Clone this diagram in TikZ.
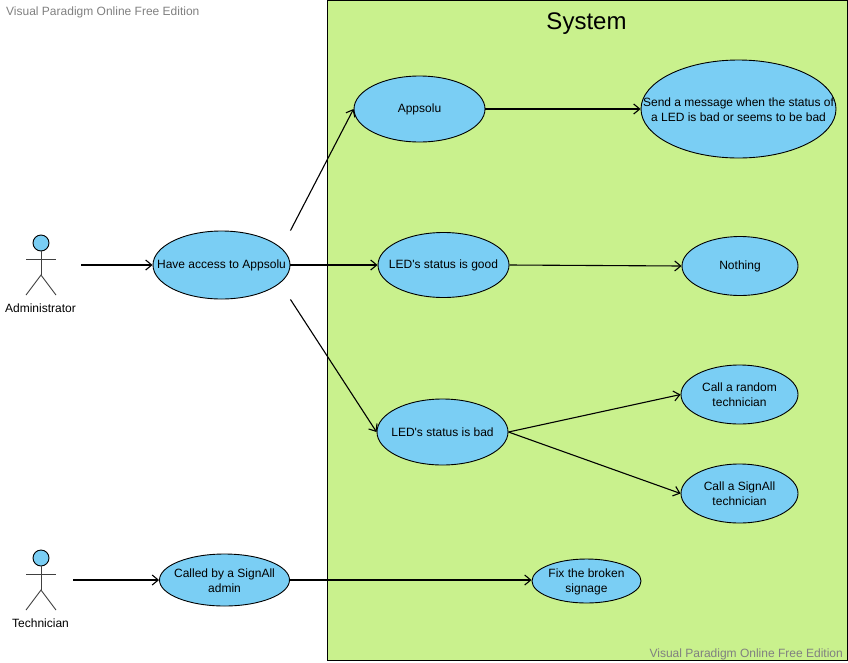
\documentclass[tikz,border=0pt]{standalone}
\usepackage{fontspec}
\setmainfont{Liberation Sans}
\usetikzlibrary{arrows.meta,shapes.geometric}
\definecolor{sysgreen}{HTML}{C9F18D}
\definecolor{caseblue}{HTML}{7ACEF4}
\begin{document}
\begin{tikzpicture}[x=1pt,y=-1pt]
	\tikzstyle{usecase}=[draw,ellipse,fill=caseblue,line width=0.9pt,inner sep=0pt]
	\tikzstyle{casetext}=[inner sep=0pt,align=center,yshift=-0.7pt,font=\fontsize{12}{15}\selectfont]
	\tikzstyle{myarrow}=[line width=1.1pt,-{Straight Barb[length=6pt,width=10pt]}]
	\tikzstyle{stick}=[draw=black!75,line width=0.9pt]
	\tikzstyle{actorname}=[inner sep=0pt,font=\fontsize{12}{15}\selectfont]
	\tikzstyle{watermark}=[inner sep=0pt,text=black!50,font=\fontsize{12}{15}\selectfont]

	\useasboundingbox (0,0) rectangle (848,662);
	\node[draw,fill=sysgreen,minimum width=520pt,minimum height=660pt,inner sep=0pt,line width=0.7pt] (system) at (587,330) {};
	\node[inner sep=0pt,font=\fontsize{24}{28}\selectfont] (title) at (586.5,24) {System};
	\node[watermark,anchor=west] (markleft) at (6,12) {Visual Paradigm Online Free Edition};
	\node[watermark,anchor=east] (markright) at (843,654) {Visual Paradigm Online Free Edition};

	% use cases
	\foreach \x / \y / \w / \h / \n / \t in {
		221.5/265/137/68/have/{Have access to Appsolu},
		419.5/109/131/66/appsolu/{Appsolu},
		738.5/109/195/98/send/{Send a message when the status of\\a LED is bad or seems to be bad},
		443.5/265/131/65/good/{LED\textquotesingle s status is good},
		740/266/116/59/nothing/{Nothing},
		442.5/432/131/66/bad/{LED\textquotesingle s status is bad},
		739.5/394.5/117/59/random/{Call a random\\technician},
		739.5/493.5/117/59/signall/{Call a SignAll\\technician},
		224.5/580/130/52/called/{Called by a SignAll\\admin},
		586.5/581/109/44/fix/{Fix the broken\\signage}}
	{ \node[usecase,minimum width=\w pt,minimum height=\h pt] (\n) at (\x,\y) {};
	  \node[casetext] (\n text) at (\n) {\t}; }

	% actors
	\foreach \y / \n / \t in {243/admin/Administrator,558/tech/Technician} {
		\node[draw,circle,fill=caseblue,minimum size=16pt,inner sep=0pt,line width=0.9pt] (\n) at (41,\y) {};
		\coordinate (\n hip) at (41,\y+32);
		\coordinate (\n arml) at (26,\y+16);
		\coordinate (\n armr) at (56,\y+16);
		\coordinate (\n legl) at (26,\y+52);
		\coordinate (\n legr) at (56,\y+52);
		\draw[stick] (\n) -- (\n hip);
		\draw[stick] (\n arml) -- (\n armr);
		\draw[stick] (\n legl) -- (\n hip) -- (\n legr);
		\node[actorname] (\n name) at (40.5,\y+65) {\t};
	}

	\coordinate (adminend) at (81,265);
	\coordinate (techend) at (73,580);
	\draw[myarrow] (adminend) -- (have);
	\draw[myarrow] (techend) -- (called);

	\draw[myarrow] (have.east |- have.north) -- (appsolu.west);
	\draw[myarrow] (have.east) -- (good.west);
	\draw[myarrow] (have.east |- have.south) -- (bad.west);
	\draw[myarrow] (appsolu.east) -- (send.west);
	\draw[myarrow] (good.east) -- (nothing.west);
	\draw[myarrow] (bad.east) -- (random.west);
	\draw[myarrow] (bad.east) -- (signall.west);
	\draw[myarrow] (called.east) -- (called.east -| fix.west);
\end{tikzpicture}
\end{document}
